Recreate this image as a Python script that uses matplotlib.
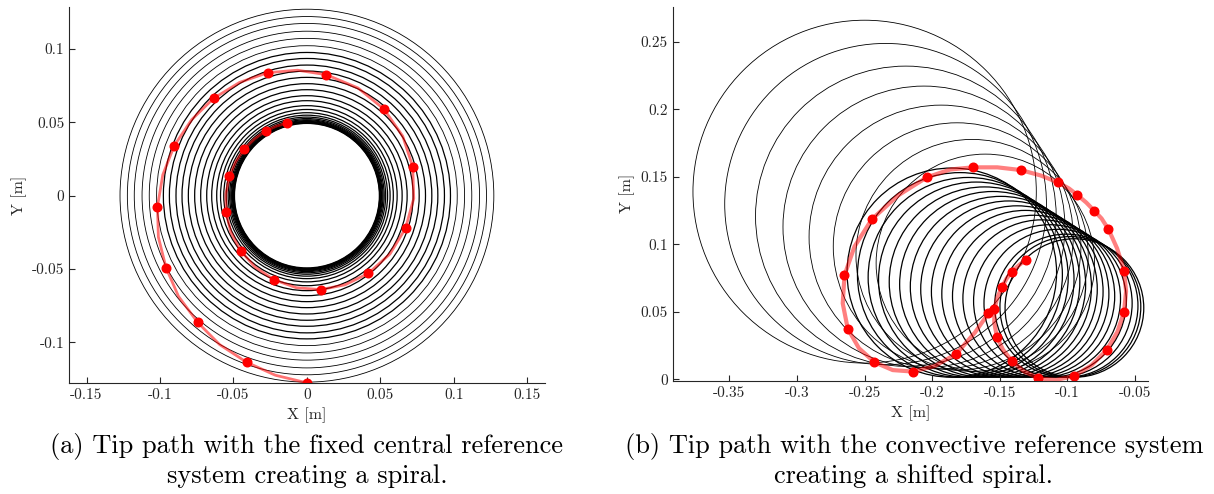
import numpy as np
import matplotlib
matplotlib.use("Agg")
import matplotlib.pyplot as plt
from matplotlib.patches import Circle

plt.rcParams["font.family"] = ["cmr10", "DejaVu Serif"]
plt.rcParams["axes.unicode_minus"] = False

# (a) fixed central reference system: concentric tip circles
fixed_r = [0.1272, 0.1222, 0.1175, 0.1122, 0.1073, 0.1023, 0.0977, 0.0936,
           0.0891, 0.0850, 0.0807, 0.0764, 0.0723, 0.0682, 0.0648, 0.0614,
           0.0588, 0.0566, 0.0549, 0.0536, 0.0526, 0.0518, 0.0512, 0.0507,
           0.0503, 0.0499, 0.0496, 0.0493]

fixed_dot_x = [-0.0135, -0.0280, -0.0425, -0.0527, -0.0550, -0.0452, -0.0225,
               0.0094, 0.0418, 0.0671, 0.0720, 0.0524, 0.0133, -0.0266,
               -0.0635, -0.0903, -0.1017, -0.0959, -0.0744, -0.0411, 0.0]
fixed_dot_y = [0.0495, 0.0441, 0.0320, 0.0132, -0.0114, -0.0375, -0.0573,
               -0.0641, -0.0530, -0.0223, 0.0198, 0.0591, 0.0825, 0.0839,
               0.0664, 0.0341, -0.0075, -0.0491, -0.0864, -0.1136, -0.1277]

# red tip path
fixed_path_x = [-0.0135, -0.0209, -0.0280, -0.0357, -0.0425, -0.0485, -0.0527,
                -0.0552, -0.0550, -0.0518, -0.0452, -0.0352, -0.0225, -0.0072,
                0.0094, 0.0260, 0.0418, 0.0565, 0.0671, 0.0727, 0.0720, 0.0652,
                0.0524, 0.0347, 0.0133, -0.0064, -0.0266, -0.0458, -0.0635,
                -0.0784, -0.0903, -0.0981, -0.1017, -0.1011, -0.0959, -0.0874,
                -0.0744, -0.0594, -0.0411, -0.0215, 0.0]
fixed_path_y = [0.0495, 0.0474, 0.0441, 0.0387, 0.0320, 0.0231, 0.0132,
                0.0011, -0.0114, -0.0249, -0.0375, -0.0488, -0.0573, -0.0628,
                -0.0641, -0.0608, -0.0530, -0.0398, -0.0223, -0.0019, 0.0198,
                0.0406, 0.0591, 0.0735, 0.0825, 0.0856, 0.0839, 0.0773, 0.0664,
                0.0519, 0.0341, 0.0142, -0.0075, -0.0282, -0.0491, -0.0687,
                -0.0864, -0.1016, -0.1136, -0.1225, -0.1277]

# (b) convective reference system: shifted tip circles
conv_r = [0.1270, 0.1190, 0.1112, 0.1043, 0.0977, 0.0916, 0.0859, 0.0808,
          0.0775, 0.0758, 0.0740, 0.0723, 0.0705, 0.0688, 0.0670, 0.0653,
          0.0635, 0.0618, 0.0600, 0.0583, 0.0565, 0.0548, 0.0530, 0.0521,
          0.0513]
conv_cx = [-0.2500, -0.2345, -0.2195, -0.2061, -0.1934, -0.1816, -0.1705,
           -0.1607, -0.1855, -0.1795, -0.1734, -0.1674, -0.1613, -0.1553,
           -0.1492, -0.1432, -0.1371, -0.1311, -0.1250, -0.1190, -0.1129,
           -0.1069, -0.1008, -0.0978, -0.0948]
conv_cy = [0.1390, 0.1298, 0.1208, 0.1129, 0.1054, 0.0984, 0.0918, 0.0860,
           0.0790, 0.0773, 0.0755, 0.0738, 0.0720, 0.0703, 0.0685, 0.0668,
           0.0650, 0.0633, 0.0615, 0.0598, 0.0580, 0.0563, 0.0545, 0.0536,
           0.0528]

conv_dot_x = [-0.1308, -0.1411, -0.1485, -0.1540, -0.1522, -0.1411, -0.1214,
              -0.0950, -0.0709, -0.0581, -0.0581, -0.0696, -0.0800, -0.0926,
              -0.1071, -0.1345, -0.1700, -0.2040, -0.2447, -0.2649, -0.2625,
              -0.2427, -0.2141, -0.1823, -0.1584]
conv_dot_y = [0.0884, 0.0797, 0.0681, 0.0521, 0.0316, 0.0136, 0.0007,
              0.0024, 0.0217, 0.0499, 0.0805, 0.1111, 0.1247, 0.1365,
              0.1459, 0.1550, 0.1570, 0.1496, 0.1185, 0.0770, 0.0375,
              0.0126, 0.0057, 0.0187, 0.0489]

conv_path_x = [-0.1308, -0.1355, -0.1411, -0.1451, -0.1485, -0.1518, -0.1540,
               -0.1541, -0.1522, -0.1478, -0.1411, -0.1322, -0.1214, -0.1085,
               -0.0950, -0.0821, -0.0709, -0.0630, -0.0581, -0.0566, -0.0581,
               -0.0632, -0.0696, -0.0747, -0.0800, -0.0860, -0.0926, -0.0989,
               -0.1071, -0.1195, -0.1345, -0.1518, -0.1700, -0.1867, -0.2040,
               -0.2252, -0.2447, -0.2575, -0.2649, -0.2662, -0.2625, -0.2542,
               -0.2427, -0.2292, -0.2141, -0.1979, -0.1823, -0.1684, -0.1584]
conv_path_y = [0.0884, 0.0848, 0.0797, 0.0744, 0.0681, 0.0607, 0.0521,
               0.0420, 0.0316, 0.0221, 0.0136, 0.0059, 0.0007, -0.0005,
               0.0024, 0.0104, 0.0217, 0.0351, 0.0499, 0.0651, 0.0805,
               0.0969, 0.1111, 0.1191, 0.1247, 0.1309, 0.1365, 0.1414,
               0.1459, 0.1509, 0.1550, 0.1570, 0.1570, 0.1554, 0.1496,
               0.1362, 0.1185, 0.0983, 0.0770, 0.0562, 0.0375, 0.0230,
               0.0126, 0.0068, 0.0057, 0.0099, 0.0187, 0.0346, 0.0489]

captions = [("(a) Tip path with the fixed central reference",
             "system creating a spiral."),
            ("(b) Tip path with the convective reference system",
             "creating a shifted spiral.")]

fig = plt.figure(figsize=(12.14, 4.94), dpi=100)
ax1 = fig.add_axes([0.0571, 0.2241, 0.3918, 0.7611])
ax2 = fig.add_axes([0.5541, 0.2287, 0.3915, 0.7577])

for r in fixed_r:
    lw = 0.6 if r > 0.1 else 0.9
    ax1.add_patch(Circle((0, 0), r, fill=False, color="black", lw=lw))
ax1.plot(fixed_path_x, fixed_path_y, color="red", alpha=0.55, lw=2)
ax1.plot(fixed_dot_x, fixed_dot_y, "o", color="red", ms=6.2, mec="red")

for r, cx, cy in zip(conv_r, conv_cx, conv_cy):
    lw = 0.6 if r > 0.079 else 0.9
    ax2.add_patch(Circle((cx, cy), r, fill=False, color="black", lw=lw))
ax2.plot(conv_path_x, conv_path_y, color="red", alpha=0.5, lw=3)
ax2.plot(conv_dot_x, conv_dot_y, "o", color="red", ms=6.2, mec="red")

ax1.set_xlim(-0.1617, 0.162)
ax1.set_ylim(-0.128, 0.1285)
ax1.set_xticks([-0.15, -0.1, -0.05, 0, 0.05, 0.1, 0.15])
ax1.set_xticklabels(["-0.15", "-0.1", "-0.05", "0", "0.05", "0.1", "0.15"])
ax1.set_yticks([-0.1, -0.05, 0, 0.05, 0.1])
ax1.set_yticklabels(["-0.1", "-0.05", "0", "0.05", "0.1"])

ax2.set_xlim(-0.392, -0.0404)
ax2.set_ylim(-0.0013, 0.276)
ax2.set_xticks([-0.35, -0.3, -0.25, -0.2, -0.15, -0.1, -0.05])
ax2.set_xticklabels(["-0.35", "-0.3", "-0.25", "-0.2", "-0.15", "-0.1", "-0.05"])
ax2.set_yticks([0, 0.05, 0.1, 0.15, 0.2, 0.25])
ax2.set_yticklabels(["0", "0.05", "0.1", "0.15", "0.2", "0.25"])

for ax in (ax1, ax2):
    ax.spines["top"].set_visible(False)
    ax.spines["right"].set_visible(False)
    ax.spines["left"].set_color("#262626")
    ax.spines["bottom"].set_color("#262626")
    ax.tick_params(direction="in", length=4, width=0.8, labelsize=11,
                   colors="#262626")
    ax.set_xlabel("X [m]", fontsize=11.5, color="#262626", labelpad=4)
    ax.set_ylabel("Y [m]", fontsize=11.5, color="#262626", labelpad=4)

for cx, (l1, l2) in zip([307 / 1214, 914 / 1214], captions):
    fig.text(cx, 1 - 446 / 494, l1, ha="center", va="center", fontsize=19)
    fig.text(cx, 1 - 476 / 494, l2, ha="center", va="center", fontsize=19)

fig.savefig("out.png", dpi=100)
